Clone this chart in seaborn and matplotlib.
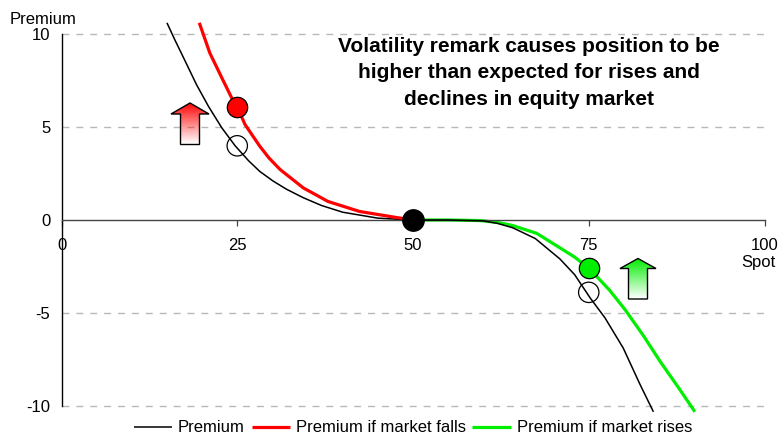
import numpy as np
import matplotlib
matplotlib.use("Agg")
import matplotlib.pyplot as plt
import seaborn as sns
from matplotlib.patches import Polygon

# values
premium_x = [15, 16.1, 17.6, 19.2, 20.9, 22.8, 24.7, 26.6, 28.2, 30.1, 32, 34.4, 37, 40, 45, 50, 55, 60, 62, 64.2, 67.4, 70.9, 73, 75.2, 77.3, 79.9, 82.3, 84.2]
premium_y = [10.63, 9.73, 8.56, 7.3, 6.13, 4.97, 4.0, 3.2, 2.62, 2.1, 1.66, 1.2, 0.78, 0.42, 0.1, 0, 0, -0.05, -0.18, -0.42, -1.0, -2.1, -2.95, -4.2, -5.27, -6.9, -8.87, -10.34]
falls_x = [19.6, 21.1, 22.8, 24.2, 25, 26.1, 28.2, 29.5, 31.1, 34.4, 37.9, 42.4, 47.7, 50]
falls_y = [10.63, 9.0, 7.67, 6.59, 6.1, 5.15, 3.98, 3.35, 2.72, 1.73, 1.0, 0.46, 0.13, 0]
rises_x = [50, 55, 59.5, 62, 64.2, 67.6, 70.9, 73, 75, 76.1, 78, 80.2, 82.8, 85.2, 87.7, 90.1]
rises_y = [0, 0, -0.03, -0.13, -0.3, -0.72, -1.5, -2.0, -2.6, -3.03, -3.8, -4.85, -6.25, -7.65, -9.0, -10.34]

ticks_x = [0, 25, 50, 75, 100]
ticks_y = [-10, -5, 0, 5, 10]
chart_title = "Volatility remark causes position to be\nhigher than expected for rises and\ndeclines in equity market"

W, H = 779, 437
sns.set_theme(style="white")
plt.rcParams["font.family"] = ["Liberation Sans", "DejaVu Sans"]
plt.rcParams["axes.unicode_minus"] = False

fig = plt.figure(figsize=(W / 100, H / 100), dpi=100)
ax = fig.add_axes([61.5 / W, 1 - 405.5 / H, 703 / W, 371 / H])
ax.patch.set_alpha(0)

for v in [10, 5, -5, -10]:
    ax.plot([0, 100], [v, v], color="#b8b8b8", lw=1, dashes=(5, 5), zorder=1, clip_on=False)

sns.lineplot(x=premium_x, y=premium_y, color="black", lw=1.1, label="Premium", ax=ax, sort=False, estimator=None, zorder=3)
sns.lineplot(x=falls_x, y=falls_y, color="#ff0000", lw=2.3, label="Premium if market falls", ax=ax, sort=False, estimator=None, zorder=3)
sns.lineplot(x=rises_x, y=rises_y, color="#00ee00", lw=2.3, label="Premium if market rises", ax=ax, sort=False, estimator=None, zorder=2)
for ln in ax.get_lines():
    ln.set_clip_on(False)
    ln.set_solid_capstyle("butt")
    ln.set_solid_joinstyle("round")

# markers
sns.scatterplot(x=[25, 75], y=[4, -3.9], s=215, facecolor="none", edgecolor="black", linewidth=0.9, ax=ax, zorder=4, clip_on=False)
sns.scatterplot(x=[25], y=[6.1], s=215, color="#ff0000", edgecolor="black", linewidth=0.9, ax=ax, zorder=5, clip_on=False)
sns.scatterplot(x=[75], y=[-2.6], s=215, color="#00ee00", edgecolor="black", linewidth=0.9, ax=ax, zorder=5, clip_on=False)
sns.scatterplot(x=[50], y=[0], s=240, color="black", edgecolor="black", linewidth=0.9, ax=ax, zorder=5, clip_on=False)

ax.set_xlim(0, 100)
ax.set_ylim(-10, 10)
ax.set_xticks(ticks_x)
ax.set_yticks(ticks_y)
ax.tick_params(axis="y", direction="out", length=5, width=0.9, color="black", labelsize=12, pad=3, labelcolor="black")
ax.tick_params(axis="x", direction="out", length=4, width=0.9, color="#444444", labelsize=12, pad=9, labelcolor="black", bottom=True)
for s in ["top", "right"]:
    ax.spines[s].set_visible(False)
ax.spines["bottom"].set_position(("data", 0))
ax.spines["bottom"].set_color("#444444")
ax.spines["bottom"].set_linewidth(1)
ax.spines["left"].set_color("black")
ax.spines["left"].set_linewidth(1)
for lab in ax.get_xticklabels():
    lab.set_zorder(6)


def to_data(px, py):
    return (px - 61.5) / 7.03, (220.5 - py) / 18.55


def gradient_arrow(tip_x, tip_y, base_y, head_half, shaft_half, bottom_y, rgb):
    pts = [(tip_x, tip_y), (tip_x + head_half, base_y), (tip_x + shaft_half, base_y), (tip_x + shaft_half, bottom_y),
           (tip_x - shaft_half, bottom_y), (tip_x - shaft_half, base_y), (tip_x - head_half, base_y)]
    pts = [to_data(*p) for p in pts]
    grad = np.ones((64, 2, 4))
    grad[..., :3] = rgb
    grad[..., 3] = np.linspace(1, 0, 64)[:, None]
    x0, y1 = to_data(tip_x - head_half, tip_y)
    x1, y0 = to_data(tip_x + head_half, bottom_y)
    im = ax.imshow(grad, extent=[x0, x1, y0, y1], aspect="auto", zorder=3, origin="upper")
    poly = Polygon(pts, closed=True, facecolor="none", edgecolor="black", lw=1, zorder=4)
    ax.add_patch(poly)
    im.set_clip_path(poly)


gradient_arrow(190, 103.5, 114.5, 19, 9.5, 145, (1, 0, 0))
gradient_arrow(638, 259, 269, 18, 9.5, 299.5, (0, 0.93, 0))
ax.set_xlim(0, 100)
ax.set_ylim(-10, 10)

fig.text(529 / W, 1 - 73 / H, chart_title, ha="center", va="center", fontsize=15, fontweight="bold", color="black", linespacing=1.47)
fig.text(43.5 / W, 1 - 19 / H, "Premium", ha="center", va="center", fontsize=12, color="black")
fig.text(758 / W, 1 - 262 / H, "Spot", ha="center", va="center", fontsize=12, color="black")

ax.legend(loc="center", bbox_to_anchor=(413 / W, 1 - 428 / H), bbox_transform=fig.transFigure, ncol=3, frameon=False,
          fontsize=12, handlelength=2.3, handletextpad=0.35, columnspacing=0.4, borderpad=0, labelcolor="black")

fig.savefig("out.png", dpi=100)
